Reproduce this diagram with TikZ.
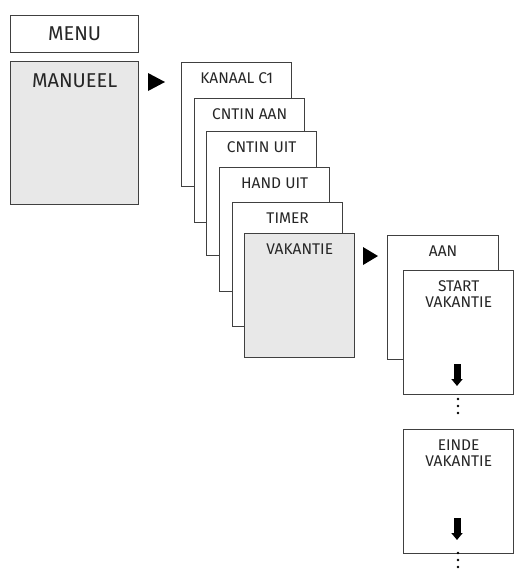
\documentclass[tikz,border=0pt]{standalone}
\usepackage{fontspec}
\setmainfont{Fira Sans}
\usetikzlibrary{arrows.meta}

\begin{document}
\begin{tikzpicture}[x=1pt, y=-1pt, thick,
  card/.style = {draw=black!75, line width=1.3pt, fill=white, anchor=north west,
    minimum width=110pt, minimum height=124pt, inner sep=0pt},
  active/.style = {card, fill=black!9},
  title/.style = {anchor=north, align=center, inner sep=0pt, text=black!85,
    font=\fontsize{15.5}{16.5}\selectfont, yshift=-10pt},
  big/.style = {title, font=\fontsize{20}{22}\selectfont, yshift=-2pt},
  pointer/.style = {fill=black},
  down/.style = {line width=7pt, -{Triangle[width=11pt, length=7pt]}}]
\useasboundingbox (0,0) rectangle (520,573);
%\node[style] (nodeID) at (top left corner) {} with its title as a label;
\node[card, minimum width=128pt, minimum height=37pt] (menu) at (10,15) {};
\node[font=\fontsize{20}{22}\selectfont, text=black!85] (menutext) at (menu.center) {MENU};
\node[active, minimum width=128pt, minimum height=143pt,
  label={[big]north:MANUEEL}] (manueel) at (10,61) {};
\fill[pointer] (148,73) -- (165,82) -- (148,91) -- cycle;
% channel menu
\node[card, label={[title]north:KANAAL C1}] (kanaal) at (181,62) {};
\node[card, label={[title]north:CNTIN AAN}] (aan) at (194,98) {};
\node[card, label={[title]north:CNTIN UIT}] (uit) at (206,131) {};
\node[card, label={[title]north:HAND UIT}] (hand) at (219,167) {};
\node[card, label={[title]north:TIMER}] (timer) at (232,202) {};
\node[active, label={[title]north:VAKANTIE}] (vakantie) at (244,233) {};
\fill[pointer] (363,247) -- (378,256) -- (363,265) -- cycle;
% holiday menu
\node[card, minimum width=111pt, label={[title]north:AAN}] (vakaan) at (387,235) {};
\node[card, label={[title]north:START\\VAKANTIE}] (start) at (403,270) {};
\node[card, label={[title]north:EINDE\\VAKANTIE}] (einde) at (403,429) {};
\coordinate (a1) at (457,364);
\coordinate (a2) at (457,386);
\coordinate (b1) at (457,518);
\coordinate (b2) at (457,540);
\draw[down] (a1) -- (a2);
\draw[down] (b1) -- (b2);
\foreach \y in {399,406,413,553,560,567}
  \fill (458,\y) circle (1.4pt);
\end{tikzpicture}
\end{document}
